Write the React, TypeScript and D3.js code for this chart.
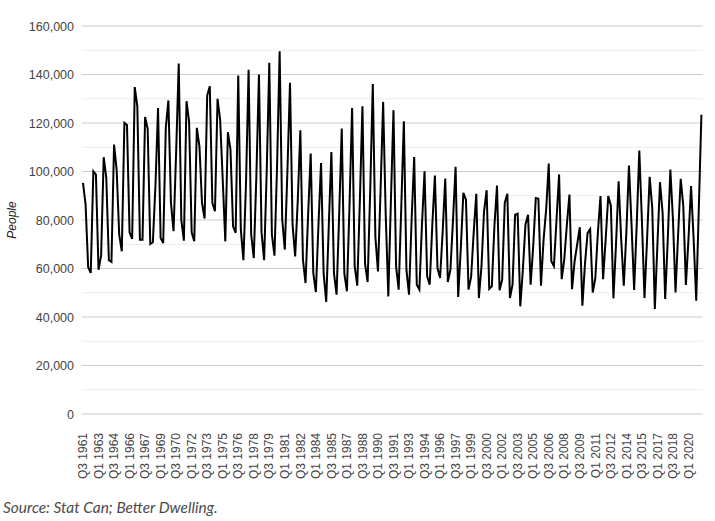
import React from "react";
import * as d3 from "d3";

// Quarterly values (people), starting Q3 1961
const values1961to1975: number[] = [
  95300, 86400, 60500, 58200, 100100, 98700, 59500, 65300, 105900, 97400, 63400, 62700,
  111100, 100800, 74000, 67100, 120100, 119200, 74900, 72200, 134800, 126900, 71900, 71900,
  122500, 117600, 70100, 70800, 94000, 126200, 72600, 70500, 118000, 129300, 87000, 75400,
  108000, 144500, 80000, 71500, 129000, 120700, 74900, 71200, 118000, 110400, 87000, 80600,
  131300, 135200, 87000, 83600, 130000, 121400, 96700, 71200, 116200, 109000, 77400, 74700,
];
const values1976to1990: number[] = [
  139600, 76000, 63400, 95000, 142000, 74000, 64300, 98000, 140000, 75000, 63400, 100000,
  144800, 74000, 65300, 102000, 149600, 80200, 67800, 100000, 136600, 78000, 65000, 88000,
  117000, 63700, 54000, 82000, 107400, 58200, 50300, 78000, 103500, 58000, 46200, 78000,
  108000, 58000, 49200, 82000, 117700, 58000, 50600, 86000, 126200, 61000, 52900, 88000,
  126900, 62000, 54400, 92000, 136100, 73000, 58800, 92000, 128700, 82000, 48500, 88000,
];
const values1991to2005: number[] = [
  125300, 60900, 51300, 85000, 120700, 59500, 49200, 80000, 106000, 53300, 51300, 78000,
  100100, 56800, 53300, 78000, 98300, 60200, 56100, 75000, 97100, 54400, 59500, 80000,
  101900, 48300, 68000, 91200, 88400, 51300, 56500, 75000, 90800, 47800, 60900, 83600,
  92300, 51600, 52700, 77400, 94200, 51000, 55400, 87000, 90800, 47800, 53300, 82200,
  82600, 44400, 59500, 78100, 82200, 53300, 69200, 89100, 88800, 52900, 71900, 84300,
];
const values2006to2021: number[] = [
  103300, 63000, 61000, 80000, 98800, 55600, 63800, 78000, 90500, 51500, 63000, 70000,
  77000, 44700, 61800, 74600, 76200, 50100, 56000, 75000, 89900, 55600, 72000, 89900,
  86000, 47700, 70000, 96000, 72000, 52900, 75000, 102500, 78000, 51200, 78000, 108600,
  80000, 47800, 72000, 97800, 85000, 43300, 70000, 95600, 83000, 47400, 72000, 100800,
  80300, 50100, 74000, 97000, 85800, 53200, 72000, 94000, 72000, 46700, 85000, 123400,
];
const values = [...values1961to1975, ...values1976to1990, ...values1991to2005, ...values2006to2021];

const START_YEAR = 1961;
const START_QUARTER = 3;
const categories: string[] = values.map((_, i) => {
  const q0 = START_QUARTER - 1 + i;
  return `Q${(q0 % 4) + 1} ${START_YEAR + Math.floor(q0 / 4)}`;
});
const TICK_EVERY = 6;
const yMajorTicks = [0, 20000, 40000, 60000, 80000, 100000, 120000, 140000, 160000];
const yMinorTicks = [10000, 30000, 50000, 70000, 90000, 110000, 130000, 150000];
const yTitle = "People";
const sourceText = "Source: Stat Can; Better Dwelling.";

const W = 715;
const H = 521;

export default function App() {
  const x = d3.scaleBand<number>().domain(values.map((_, i) => i)).range([81.7, 702.7]);
  const y = d3.scaleLinear().domain([0, 160000]).range([414, 26]);
  const cx = (i: number) => (x(i) as number) + x.bandwidth() / 2;
  const line = d3
    .line<number>()
    .x((_, i) => cx(i))
    .y((d) => y(d));
  const fmt = d3.format(",");
  const labelFont = "'Liberation Sans', Arial, sans-serif";

  return (
    <svg
      width={W}
      height={H}
      viewBox={`0 0 ${W} ${H}`}
      style={{ position: "absolute", left: 0, top: 0, background: "#fff" }}
    >
      <rect x={0} y={0} width={W} height={H} fill="#fff" />
      {yMinorTicks.map((t) => (
        <line key={"m" + t} x1={81.7} x2={702.7} y1={y(t)} y2={y(t)} stroke="#ebebeb" strokeWidth={1} />
      ))}
      {yMajorTicks.map((t) => (
        <line key={"M" + t} x1={81.7} x2={702.7} y1={y(t)} y2={y(t)} stroke="#cccccc" strokeWidth={1} />
      ))}
      {yMajorTicks.map((t) => (
        <text
          key={"l" + t}
          x={74}
          y={y(t)}
          dy="0.36em"
          textAnchor="end"
          fontFamily={labelFont}
          fontSize={12.5}
          fill="#444"
        >
          {fmt(t)}
        </text>
      ))}
      <text
        transform={`translate(16,${(y(0) + y(160000)) / 2}) rotate(-90)`}
        textAnchor="middle"
        fontFamily={labelFont}
        fontSize={12}
        fontStyle="italic"
        fill="#222"
      >
        {yTitle}
      </text>
      {categories.map((c, i) =>
        i % TICK_EVERY === 0 ? (
          <text
            key={"x" + i}
            transform={`translate(${cx(i)},433) rotate(-90)`}
            dy="0.35em"
            textAnchor="end"
            fontFamily={labelFont}
            fontSize={12}
            fill="#444"
          >
            {c}
          </text>
        ) : null
      )}
      <path d={line(values) || ""} fill="none" stroke="#000" strokeWidth={2} strokeLinejoin="miter" strokeMiterlimit={4} />
      <text x={3} y={513} fontFamily="Lato, 'Open Sans', sans-serif" fontStyle="italic" fontSize={15.4} fill="#4a4a4a">
        {sourceText}
      </text>
    </svg>
  );
}
